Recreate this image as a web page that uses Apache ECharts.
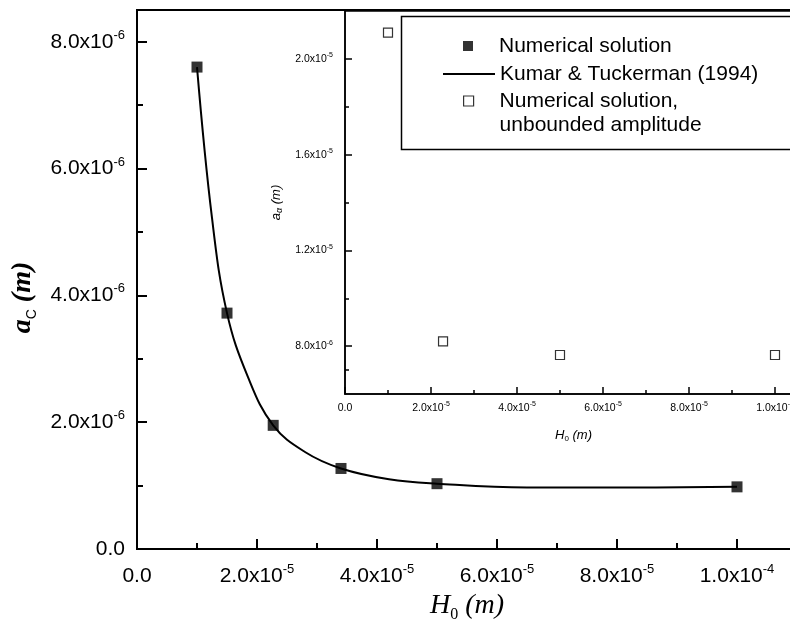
<!DOCTYPE html>
<html><head><meta charset="utf-8">
<script src="https://cdn.jsdelivr.net/npm/echarts@6/dist/echarts.min.js"></script>
<style>html,body{margin:0;padding:0;background:#fff}#c{width:790px;height:635px}</style>
</head><body><div id="c"></div><script>
// ---- data ----
const numH = [1.0e-5, 1.5e-5, 2.27e-5, 3.4e-5, 5.0e-5, 1.0e-4];
const numA = [7.6e-6, 3.72e-6, 1.95e-6, 1.27e-6, 1.03e-6, 0.98e-6];
const ktH = [1.0e-5, 1.25e-5, 1.5e-5, 1.85e-5, 2.27e-5, 2.8e-5, 3.4e-5, 4.2e-5, 5.0e-5, 6.5e-5, 8.0e-5, 1.0e-4];
const ktA = [7.6e-6, 5.22e-6, 3.72e-6, 2.71e-6, 1.95e-6, 1.53e-6, 1.27e-6, 1.10e-6, 1.03e-6, 0.97e-6, 0.97e-6, 0.98e-6];
const unbH = [1.0e-5, 2.28e-5, 5.0e-5, 1.0e-4];
const unbA = [2.11e-5, 8.2e-6, 7.63e-6, 7.63e-6];
const mainXTicks = [0, 2e-5, 4e-5, 6e-5, 8e-5, 1e-4];
const mainXMinor = [1e-5, 3e-5, 5e-5, 7e-5, 9e-5];
const mainYTicks = [0, 2e-6, 4e-6, 6e-6, 8e-6];
const mainYMinor = [1e-6, 3e-6, 5e-6, 7e-6];
const insetXTicks = [0, 2e-5, 4e-5, 6e-5, 8e-5, 1e-4];
const insetXMinor = [1e-5, 3e-5, 5e-5, 7e-5, 9e-5];
const insetYTicks = [8e-6, 1.2e-5, 1.6e-5, 2.0e-5];
const insetYMinor = [7e-6, 1.0e-5, 1.4e-5, 1.8e-5];
const seriesNames = ['Numerical solution', 'Kumar & Tuckerman (1994)', 'Numerical solution,\nunbounded amplitude'];

const SANS = 'Liberation Sans, Arial, sans-serif';
const SERIF = 'Liberation Serif, Times New Roman, serif';

function fmt(v) {
  if (Math.abs(v) < 1e-15) return '{b|0.0}';
  const e = Math.floor(Math.log10(v) + 1e-9);
  const m = v / Math.pow(10, e);
  return '{b|' + m.toFixed(1) + 'x10}{s|' + e + '}';
}
function pairs(xs, ys) { return xs.map((x, i) => [x, ys[i]]); }

const mainRich = {
  b: {fontFamily: SANS, fontSize: 21, lineHeight: 26, color: '#000'},
  s: {fontFamily: SANS, fontSize: 13, lineHeight: 13, verticalAlign: 'top', color: '#000'}
};
const insetRich = {
  b: {fontFamily: SANS, fontSize: 10.5, lineHeight: 14, color: '#000'},
  s: {fontFamily: SANS, fontSize: 7, lineHeight: 7, verticalAlign: 'top', color: '#000'}
};

function majorAxis(opts) {
  return Object.assign({
    type: 'value', splitLine: {show: false},
    axisLine: {show: true, onZero: false, lineStyle: {color: '#000', width: opts.lw}},
    axisTick: {show: true, inside: true, length: opts.tl, customValues: opts.ticks, lineStyle: {color: '#000', width: opts.lw}},
    axisLabel: {show: true, customValues: opts.ticks, formatter: fmt, margin: opts.margin, rich: opts.rich}
  }, opts.extra);
}
function minorAxis(opts) {
  return Object.assign({
    type: 'value', splitLine: {show: false},
    axisLine: {show: false},
    axisTick: {show: true, inside: true, length: opts.tl, customValues: opts.ticks, lineStyle: {color: '#000', width: opts.lw}},
    axisLabel: {show: false}
  }, opts.extra);
}

const chart = echarts.init(document.getElementById('c'), null, {renderer: 'canvas'});
chart.setOption({
  animation: false,
  backgroundColor: '#fff',
  grid: [
    {left: 137, top: 10, right: -7, bottom: 86, outerBoundsMode: 'none', containLabel: false, show: true, borderColor: '#000', borderWidth: 2, backgroundColor: 'transparent'},
    {left: 345, top: 11, right: -28, bottom: 241, outerBoundsMode: 'none', containLabel: false, show: true, borderColor: '#000', borderWidth: 1.5, backgroundColor: '#fff'}
  ],
  xAxis: [
    majorAxis({lw: 2, tl: 10, ticks: mainXTicks, margin: 14, rich: mainRich, extra: {gridIndex: 0, min: 0, max: 1.1e-4, position: 'bottom',
      name: '{i|H}{sub|0}{i| (m)}', nameLocation: 'middle', nameGap: 38,
      nameTextStyle: {rich: {
        i: {fontFamily: SERIF, fontStyle: 'italic', fontSize: 28, lineHeight: 34, color: '#000'},
        sub: {fontFamily: SERIF, fontSize: 16, lineHeight: 16, verticalAlign: 'bottom', color: '#000'}}}}}),
    minorAxis({lw: 2, tl: 6, ticks: mainXMinor, extra: {gridIndex: 0, min: 0, max: 1.1e-4, position: 'bottom'}}),
    majorAxis({lw: 1.5, tl: 7, ticks: insetXTicks, margin: 7, rich: insetRich, extra: {gridIndex: 1, min: 0, max: 1.1e-4, position: 'bottom',
      name: '{i|H}{sub|0}{i| (m)}', nameLocation: 'middle', nameGap: 33,
      nameTextStyle: {padding: [0, 16, 0, 0], rich: {
        i: {fontFamily: SANS, fontStyle: 'italic', fontSize: 13, lineHeight: 16, color: '#000'},
        sub: {fontFamily: SANS, fontSize: 8, lineHeight: 8, verticalAlign: 'bottom', color: '#000'}}}}}),
    minorAxis({lw: 1.5, tl: 4, ticks: insetXMinor, extra: {gridIndex: 1, min: 0, max: 1.1e-4, position: 'bottom'}})
  ],
  yAxis: [
    majorAxis({lw: 2, tl: 10, ticks: mainYTicks, margin: 12, rich: mainRich, extra: {gridIndex: 0, min: 0, max: 8.5e-6, position: 'left',
      name: '{i|a}{sub|C}{i| (m)}', nameLocation: 'middle', nameGap: 92, nameRotate: 90,
      nameTextStyle: {padding: [0, 36, 0, 0], rich: {
        i: {fontFamily: SERIF, fontStyle: 'italic', fontWeight: 'bold', fontSize: 28, lineHeight: 34, color: '#000'},
        sub: {fontFamily: SANS, fontSize: 14, lineHeight: 14, verticalAlign: 'bottom', color: '#000'}}}}}),
    minorAxis({lw: 2, tl: 6, ticks: mainYMinor, extra: {gridIndex: 0, min: 0, max: 8.5e-6, position: 'left'}}),
    majorAxis({lw: 1.5, tl: 7, ticks: insetYTicks, margin: 12, rich: insetRich, extra: {gridIndex: 1, min: 6e-6, max: 2.2e-5, position: 'left',
      name: '{i|a}{sub|α}{i| (m)}', nameLocation: 'middle', nameGap: 54, nameRotate: 90,
      nameTextStyle: {rich: {
        i: {fontFamily: SANS, fontStyle: 'italic', fontSize: 13, lineHeight: 16, color: '#000'},
        sub: {fontFamily: SANS, fontStyle: 'italic', fontSize: 9, lineHeight: 9, verticalAlign: 'bottom', color: '#000'}}}}}),
    minorAxis({lw: 1.5, tl: 4, ticks: insetYMinor, extra: {gridIndex: 1, min: 6e-6, max: 2.2e-5, position: 'left'}})
  ],
  legend: [
    {left: 463, top: 34, padding: 0, orient: 'vertical', itemWidth: 52, itemHeight: 10, selectedMode: false,
     data: [{name: seriesNames[0], icon: 'path://M0,0H10V10H0Z'}],
     textStyle: {fontFamily: SANS, fontSize: 21, lineHeight: 24, color: '#000'}},
    {left: 443, top: 62, padding: 0, orient: 'vertical', itemWidth: 52, itemHeight: 10, selectedMode: false,
     data: [{name: seriesNames[1], icon: 'path://M0,0H52V2H0Z'}],
     textStyle: {fontFamily: SANS, fontSize: 21, lineHeight: 24, color: '#000'}},
    {left: 463, top: 65, padding: 0, orient: 'vertical', itemWidth: 52, itemHeight: 10, selectedMode: false,
     itemStyle: {borderWidth: 1.2},
     data: [{name: seriesNames[2], icon: 'path://M0,0H10V10H0Z'}],
     formatter: function (n) { return ' \n' + n; },
     textStyle: {fontFamily: SANS, fontSize: 21, lineHeight: 24, color: '#000'}}
  ],
  graphic: [
    {type: 'rect', left: 399, top: 14, z: 5, shape: {width: 420, height: 133},
     style: {fill: 'none', stroke: '#000', lineWidth: 1.5}}
  ],
  series: [
    {name: seriesNames[1], type: 'line', xAxisIndex: 0, yAxisIndex: 0, data: pairs(ktH, ktA),
     smooth: 0.4, symbol: 'none', lineStyle: {color: '#000', width: 2}, itemStyle: {color: '#000'}, z: 2},
    {name: seriesNames[0], type: 'scatter', xAxisIndex: 0, yAxisIndex: 0, data: pairs(numH, numA),
     symbol: 'rect', symbolSize: 11, itemStyle: {color: '#000'}, z: 3},
    {name: seriesNames[2], type: 'scatter', xAxisIndex: 2, yAxisIndex: 2, data: pairs(unbH, unbA),
     symbol: 'rect', symbolSize: 9, itemStyle: {color: '#fff', borderColor: '#000', borderWidth: 1.2}, z: 3}
  ]
});
</script></body></html>
